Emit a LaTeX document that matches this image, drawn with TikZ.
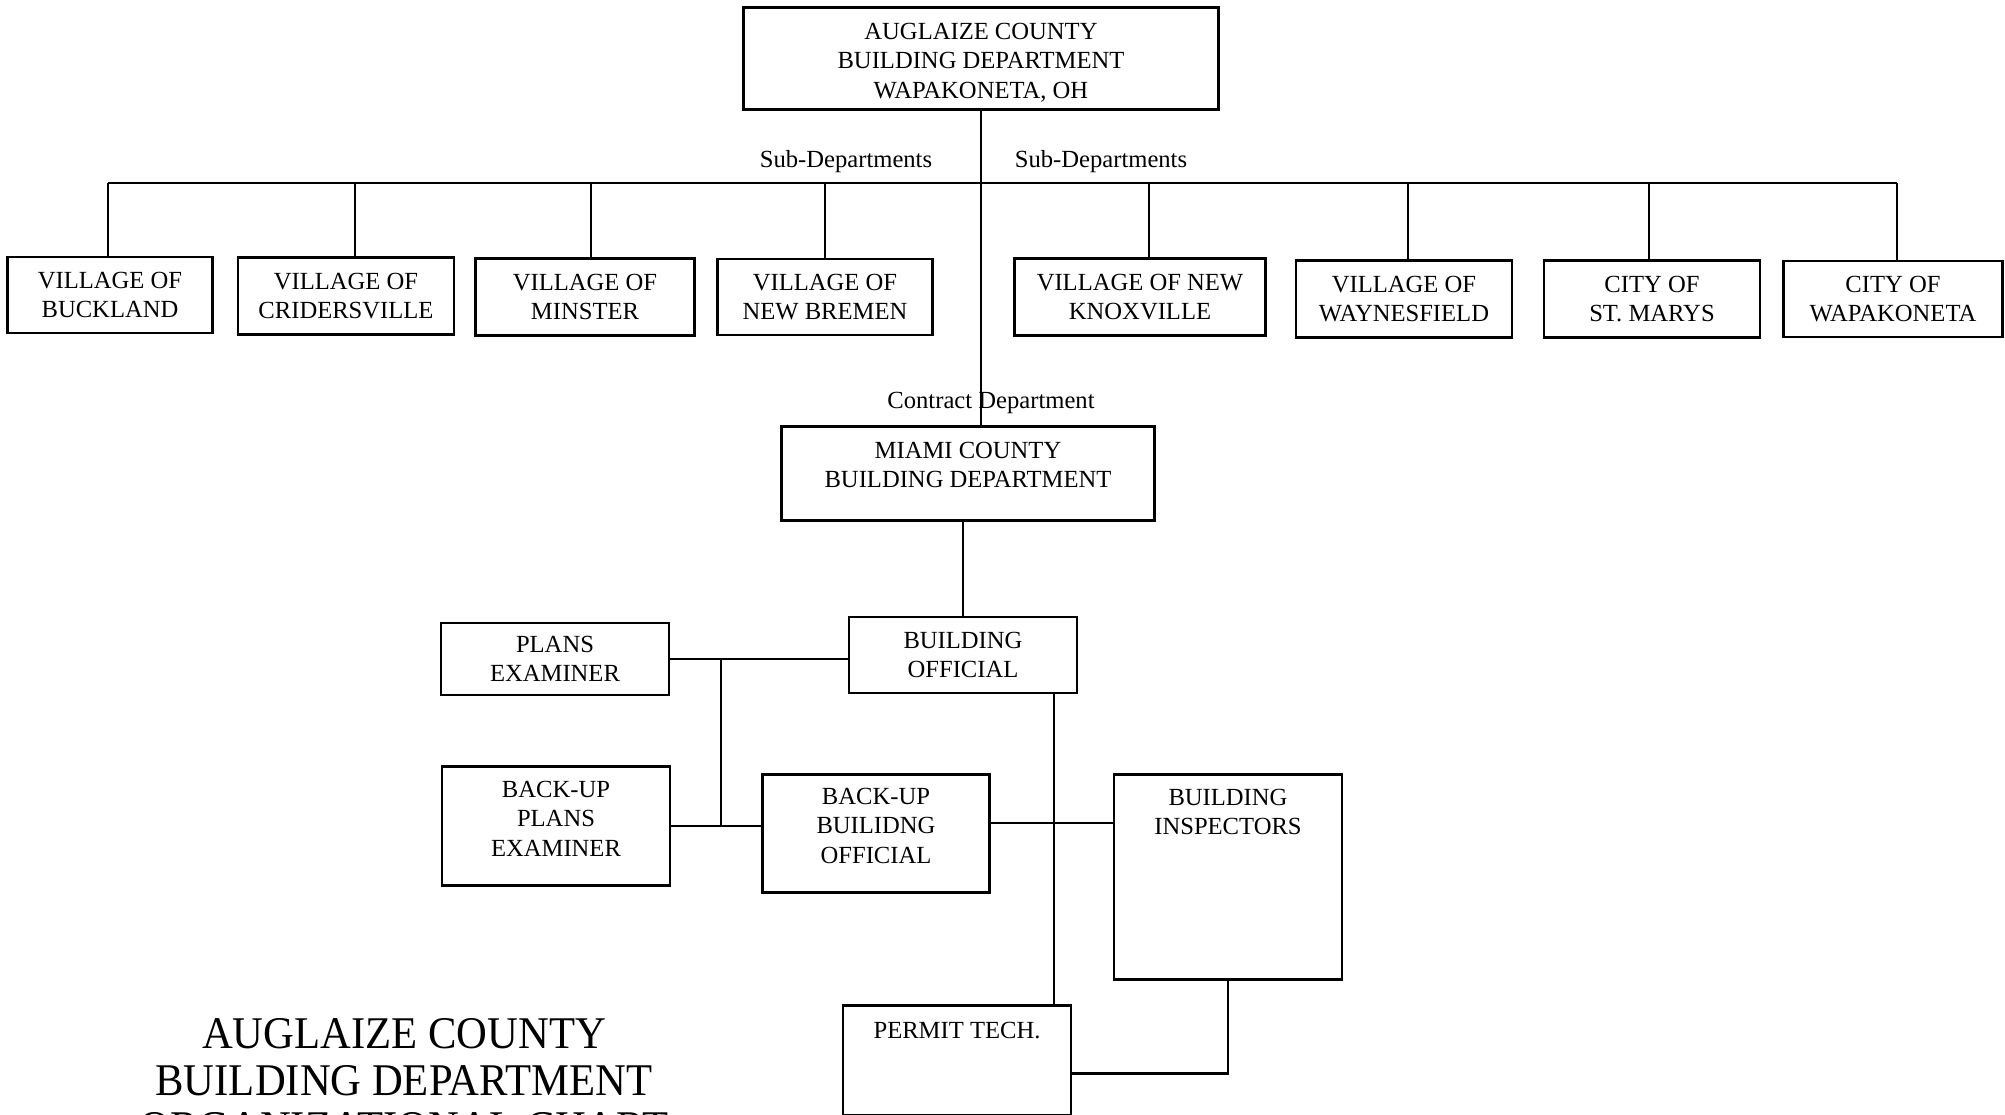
\documentclass[tikz,border=0pt]{standalone}
\usepackage{fontspec}
\setmainfont{Liberation Serif}
\newfontfamily\titlefamily[FakeStretch=0.94]{Liberation Serif}
\newcommand\boxfont{\fontsize{7}{8.4}\selectfont}
\newcommand\titlefont{\titlefamily\fontsize{12.9}{13.4}\selectfont}
\newcommand\stack[1]{\begin{tabular}[t]{@{}c@{}}#1\end{tabular}}
\tikzset{
  unit/.style={draw,thick,inner sep=0pt,align=center,font=\boxfont},
  topunit/.style n args={3}{unit,anchor=north,minimum width=#1,text height=#2,text depth=#3},
  tag/.style={font=\boxfont,anchor=base,inner sep=0pt}
}

\begin{document}
\begin{tikzpicture}[x=0.01cm,y=-0.01cm,semithick]
\useasboundingbox (0,0) rectangle (2005,1115);
\node[topunit={4.75cm}{9.1pt}{19.9pt}] (auglaize) at (981,6) {\stack{AUGLAIZE COUNTY\\BUILDING DEPARTMENT\\WAPAKONETA, OH}};
\node[unit,minimum width=2.05cm,minimum height=0.76cm] (buckland) at (110,295) {VILLAGE OF\\BUCKLAND};
\node[unit,minimum width=2.16cm,minimum height=0.77cm] (cridersville) at (346,296) {VILLAGE OF\\CRIDERSVILLE};
\node[unit,minimum width=2.19cm,minimum height=0.77cm] (minster) at (585,297) {VILLAGE OF\\MINSTER};
\node[unit,minimum width=2.15cm,minimum height=0.76cm] (bremen) at (825,297) {VILLAGE OF\\NEW BREMEN};
\node[unit,minimum width=2.51cm,minimum height=0.77cm] (knoxville) at (1140,297) {VILLAGE OF NEW\\KNOXVILLE};
\node[unit,minimum width=2.16cm,minimum height=0.77cm] (waynesfield) at (1404,299) {VILLAGE OF\\WAYNESFIELD};
\node[unit,minimum width=2.16cm,minimum height=0.77cm] (stmarys) at (1652,299) {CITY OF\\ST. MARYS};
\node[unit,minimum width=2.19cm,minimum height=0.76cm] (wapakoneta) at (1893,299) {CITY OF\\WAPAKONETA};
\node[tag] (subleft) at (846,167) {Sub-Departments};
\node[tag] (subright) at (1101,167) {Sub-Departments};
\node[tag] (contract) at (991,408) {Contract Department};
\node[topunit={3.73cm}{9.1pt}{17.6pt}] (miami) at (968,425) {\stack{MIAMI COUNTY\\BUILDING DEPARTMENT}};
\node[unit,minimum width=2.28cm,minimum height=0.76cm] (official) at (963,655) {BUILDING\\OFFICIAL};
\node[unit,minimum width=2.28cm,minimum height=0.72cm] (plans) at (555,659) {PLANS\\EXAMINER};
\node[topunit={2.28cm}{8.8pt}{25pt}] (backplans) at (556,765) {\stack{BACK-UP\\PLANS\\EXAMINER}};
\node[topunit={2.27cm}{8.5pt}{25pt}] (backofficial) at (876,773) {\stack{BACK-UP\\BUILIDNG\\OFFICIAL}};
\node[topunit={2.28cm}{8.8pt}{49.5pt}] (inspectors) at (1228,773) {\stack{BUILDING\\INSPECTORS}};
\node[topunit={2.28cm}{9.4pt}{21.9pt}] (permit) at (957,1004) {PERMIT TECH.};
\begin{scope}
\clip (0,0) rectangle (2005,1115);
\node[font=\titlefont,anchor=base,inner sep=0pt] (title) at (404,1048) {\stack{AUGLAIZE COUNTY\\BUILDING DEPARTMENT\\ORGANIZATIONAL CHART}};
\end{scope}

\coordinate (barL) at (108,183);
\coordinate (barR) at (1897,183);
\draw (barL) -- (barR);
\foreach \n/\dx in {buckland/-2,cridersville/9,minster/6,bremen/0,knoxville/9,waynesfield/4,stmarys/-3,wapakoneta/4}
  \draw ([xshift=\dx*0.01cm]\n.north) -- ([xshift=\dx*0.01cm]\n.north |- barL);
\draw (auglaize.south) -- (auglaize.south |- miami.north);
\draw (official.north) -- (official.north |- miami.south);
\draw (plans.east) -- (plans.east -| official.west);
\coordinate (split) at (721,659);
\draw (split) -- (split |- backplans.east);
\draw (backplans.east) -- (backplans.east -| backofficial.west);
\draw ([yshift=0.1cm]backofficial.east) -- ([yshift=0.1cm]backofficial.east -| inspectors.west);
\coordinate (drop) at (1054,693);
\draw (drop) -- (drop |- permit.north);
\draw (inspectors.south) |- ([yshift=-0.13cm]permit.east);
\end{tikzpicture}
\end{document}
